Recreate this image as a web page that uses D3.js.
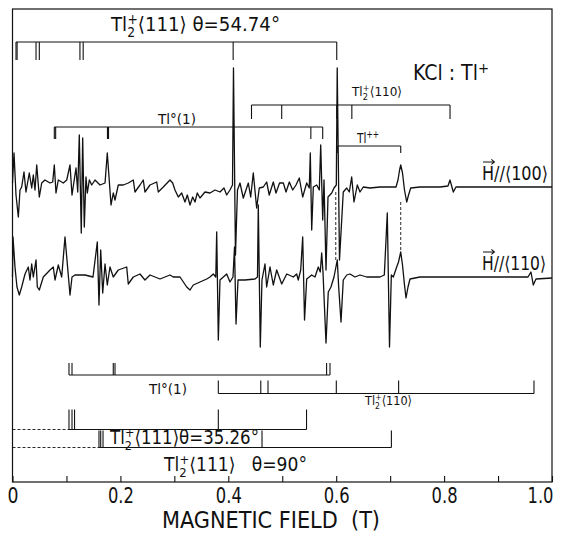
<!DOCTYPE html>
<meta charset="utf-8">
<title>KCl:Tl+ EPR spectra</title>
<style>
  body { margin: 0; background: #fff; }
  text { font-family: "Liberation Sans Narrow", "DejaVu Sans Condensed", "Roboto Condensed", sans-serif; fill: #111; }
</style>
<svg width="563" height="534"></svg>
<script src="https://d3js.org/d3.v7.min.js"></script>
<script>

var svg = d3.select("svg"),
    width = +svg.attr("width"),
    height = +svg.attr("height");

// magnetic field axis (T)
var fieldTicks = [0, 0.1, 0.2, 0.3, 0.4, 0.5, 0.6, 0.7, 0.8, 0.9, 1.0];
var tickLabels = ["0", "", "0.2", "", "0.4", "", "0.6", "", "0.8", "", "1.0"];

// spectrum H // <100> : [field (T), signal (arb.)]
var traceH100 = [
  [0.000, 2], [0.0028, 32], [0.0065, -10], [0.0108, -32], [0.0139, -5], [0.017, -2],
  [0.0213, 13], [0.025, -7], [0.0311, 12], [0.0356, -3], [0.0386, 10], [0.0417, -5],
  [0.0449, 20], [0.0497, -12], [0.0541, 2], [0.0602, 5], [0.0695, 2], [0.0745, 3],
  [0.0775, 20], [0.0806, -8], [0.0849, 5], [0.0942, 2], [0.1005, 5], [0.1066, 20],
  [0.1103, -10], [0.1177, 17], [0.1209, -7], [0.1238, 50], [0.1275, -48], [0.1301, 47],
  [0.1331, -42], [0.1362, 8], [0.1387, -8], [0.1424, 5], [0.1468, 0], [0.1529, 5],
  [0.1622, 0], [0.1715, 2], [0.1757, 32], [0.1826, -20], [0.1868, -8], [0.190, -15],
  [0.1961, 0], [0.2054, 0], [0.2146, 2], [0.2239, 5], [0.227, -7], [0.2363, 0],
  [0.2424, 5], [0.2455, -7], [0.2549, 0], [0.2673, 3], [0.2702, -7], [0.2795, -2],
  [0.2919, 5], [0.2969, 2], [0.3012, -5], [0.3073, -12], [0.3136, -8], [0.3197, -17],
  [0.324, -10], [0.329, -20], [0.334, -12], [0.3383, -17], [0.3425, -8], [0.3475, -13],
  [0.3568, -7], [0.3661, -8], [0.3754, -5], [0.3846, -7], [0.392, -3], [0.397, -10],
  [0.4031, -5], [0.4078, 0], [0.4096, 117], [0.4133, -70], [0.417, -5], [0.4217, 2],
  [0.4278, -13], [0.4371, 2], [0.4415, -12], [0.4463, 12], [0.4526, -23], [0.4574, -3],
  [0.4649, -2], [0.4711, 3], [0.4759, -10], [0.4834, 3], [0.4884, -8], [0.4950, 2],
  [0.502, 2], [0.507, -7], [0.5131, 3], [0.5194, -5], [0.5255, 0], [0.5316, 7],
  [0.5379, -12], [0.5453, 2], [0.5501, -3], [0.552, 32], [0.5546, -45], [0.5576, -2],
  [0.5639, 0], [0.5687, -5], [0.5713, 40], [0.575, -35], [0.5774, 5], [0.5811, -85],
  [0.5848, -12], [0.5917, -8], [0.5959, -3], [0.6002, 0], [0.6019, 117], [0.6061, -75],
  [0.6131, -7], [0.6195, -3], [0.6243, -7], [0.6287, 8], [0.633, -17], [0.6391, 0],
  [0.6441, -7], [0.6502, -2], [0.6626, -3], [0.6812, -2], [0.6997, -2], [0.7109, -2],
  [0.7145, 5], [0.7175, 15], [0.7196, 20], [0.7229, 12], [0.7266, -5], [0.7307, -17],
  [0.7341, -10], [0.7381, -3], [0.7553, -2], [0.7924, -2], [0.8072, -1], [0.8109, 5],
  [0.8171, -7], [0.822, -2], [0.8665, -2], [1.0, -2]
];

// spectrum H // <110>
var traceH110 = [
  [0.000, 0], [0.0009, 40], [0.0046, 10], [0.0083, -10], [0.0126, -18], [0.017, -10],
  [0.0232, 3], [0.0293, 10], [0.0324, -3], [0.0356, 13], [0.0386, 0], [0.0436, 17],
  [0.046, -10], [0.0497, -13], [0.0571, 0], [0.0695, 7], [0.0756, 10], [0.0788, -3],
  [0.0849, 12], [0.0912, 0], [0.0973, 40], [0.1066, -18], [0.1103, 0], [0.1158, 2],
  [0.1344, 2], [0.1492, 0], [0.1572, 35], [0.1603, -28], [0.1635, 27], [0.1672, -16],
  [0.1715, 13], [0.1757, -8], [0.1807, 10], [0.1868, 0], [0.1961, 7], [0.2117, 10],
  [0.2146, -7], [0.2239, 0], [0.2363, 3], [0.2455, -3], [0.2549, 2], [0.2734, -2],
  [0.2919, 2], [0.298, 0], [0.3105, 0], [0.3229, -10], [0.329, -13], [0.3351, -8],
  [0.3475, -5], [0.360, -2], [0.3661, 0], [0.3722, 3], [0.3768, 0], [0.3785, 45],
  [0.3815, -63], [0.3846, -3], [0.397, 3], [0.4031, -5], [0.4087, 0], [0.4115, 30],
  [0.4143, -47], [0.418, -3], [0.4309, -3], [0.4495, -2], [0.4541, 0], [0.4556, 72],
  [0.4593, -70], [0.4624, -3], [0.468, 13], [0.4711, -10], [0.4773, 10], [0.4834, -8],
  [0.4897, 7], [0.499, -7], [0.5083, 3], [0.5205, 0], [0.5267, 3], [0.5297, -3],
  [0.5342, 7], [0.5379, 40], [0.5413, -43], [0.5453, -2], [0.5546, 2], [0.5607, 0],
  [0.5668, 10], [0.5705, 5], [0.5731, 24], [0.5755, 5], [0.5811, -66], [0.5853, -15],
  [0.5903, -10], [0.5959, 0], [0.602, 17], [0.6046, -10], [0.6089, -45], [0.6131, -3],
  [0.6195, 2], [0.6256, 3], [0.6348, 0], [0.6441, 2], [0.6566, 0], [0.6812, 0],
  [0.6892, 2], [0.6947, 64], [0.6988, -70], [0.7022, 2], [0.7059, 0], [0.7121, 10],
  [0.7155, 15], [0.7196, 25], [0.7229, 12], [0.7266, -8], [0.7294, -21], [0.7331, -10],
  [0.7368, -2], [0.7553, 0], [0.8109, 0], [0.9036, 0], [0.9555, 0], [0.961, 5],
  [0.9653, -8], [0.9703, -2], [1.0, -1]
];

// line positions (T) of the stick diagrams
var tl2_111_5474 = [0.0065, 0.0085, 0.0436, 0.0497, 0.125, 0.131, 0.409, 0.601];
var tl2_110_top  = [0.443, 0.499, 0.601, 0.629, 0.811];
var tl0_top      = [0.0775, 0.080, 0.176, 0.178, 0.553, 0.575];
var tlpp         = [0.602, 0.7196];
var tl0_bottom   = [0.1047, 0.1103, 0.1868, 0.190, 0.5822, 0.5885];
var tl2_110_bot  = [0.3815, 0.4602, 0.4736, 0.6002, 0.7157, 0.9666];
var tl2_111_3526 = [0.1047, 0.1103, 0.115, 0.3815, 0.545];
var tl2_111_90   = [0.1603, 0.1635, 0.1678, 0.4625, 0.7023];

var margin = {left: 12.5, right: 11, top: 9, bottom: 52};
var x = d3.scaleLinear().domain([0, 1]).range([margin.left, width - margin.right]);
var amp = d3.scaleLinear().domain([-120, 120]).range([120, -120]);
var ink = "#111";

// frame
svg.append("rect")
    .attr("x", x(0)).attr("y", margin.top)
    .attr("width", x(1) - x(0)).attr("height", height - margin.bottom - margin.top)
    .attr("fill", "none").attr("stroke", ink).attr("stroke-width", 1.2);

// axis
var axis = svg.append("g")
    .attr("transform", "translate(0," + (height - margin.bottom) + ")")
    .call(d3.axisBottom(x).tickValues(fieldTicks).tickSize(-6).tickPadding(6)
      .tickFormat(function(d, i) { return tickLabels[i]; }));
axis.select(".domain").remove();
axis.selectAll("line").attr("stroke", ink).attr("stroke-width", 1.1);
axis.selectAll("text")
    .attr("font-size", 21).attr("fill", ink)
    .attr("textLength", function(d, i) { return tickLabels[i].length > 1 ? 26 : 11; })
    .attr("lengthAdjust", "spacingAndGlyphs")
    .style("font-family", "'Liberation Sans Narrow', 'DejaVu Sans Condensed', sans-serif");
axis.selectAll(".tick").filter(function(d) { return d === 1; }).select("text")
    .attr("text-anchor", "end").attr("dx", 1);

svg.append("text")
    .attr("x", 271).attr("y", 528)
    .attr("text-anchor", "middle").attr("font-size", 23)
    .attr("xml:space", "preserve")
    .attr("textLength", 218).attr("lengthAdjust", "spacingAndGlyphs")
    .text("MAGNETIC FIELD  (T)");

// spectra
var line = d3.line().x(function(d) { return x(d[0]); }).y(function(d) { return amp(d[1]); });
[[traceH100, 185], [traceH110, 277]].forEach(function(t) {
  svg.append("path")
      .datum(t[0])
      .attr("transform", "translate(0," + t[1] + ")")
      .attr("d", line)
      .attr("fill", "none").attr("stroke", ink)
      .attr("stroke-width", 1.3).attr("stroke-linejoin", "round");
});

// stick diagrams: y of the bar, tick direction (+1 down) and length
function bracket(fields, y, dir, len) {
  var g = svg.append("g").attr("stroke", ink).attr("stroke-width", 1.1).attr("fill", "none");
  g.append("line")
      .attr("x1", x(d3.min(fields))).attr("x2", x(d3.max(fields)))
      .attr("y1", y).attr("y2", y);
  g.selectAll("line.tick").data(fields).enter().append("line")
      .attr("class", "tick")
      .attr("x1", function(d) { return x(d); }).attr("x2", function(d) { return x(d); })
      .attr("y1", y).attr("y2", y + dir * len);
  return g;
}
bracket(tl2_111_5474, 42, 1, 18);
bracket(tl2_110_top, 105, 1, 14);
bracket(tl0_top, 127, 1, 12);
bracket(tlpp, 146, 1, 7);
bracket(tl0_bottom, 375, -1, 12);
bracket(tl2_110_bot, 393.5, -1, 13);
bracket(tl2_111_3526, 429.5, -1, 20);
bracket(tl2_111_90, 447.5, -1, 17);

// dashed guides
function dashed(x1, y1, x2, y2) {
  svg.append("line").attr("x1", x1).attr("y1", y1).attr("x2", x2).attr("y2", y2)
      .attr("stroke", ink).attr("stroke-width", 0.9).attr("stroke-dasharray", "3,2");
}
dashed(x(0), 429.5, x(d3.min(tl2_111_3526)), 429.5);
dashed(x(0), 447.5, x(d3.min(tl2_111_90)), 447.5);
dashed(x(tlpp[0]) - 1.5, 192, x(tlpp[0]) - 1.5, 260);
dashed(x(tlpp[1]), 202, x(tlpp[1]), 252);

// labels
function tl2(xp, y, size, rest, len) {
  var t = svg.append("text").attr("x", xp).attr("y", y).attr("font-size", size)
      .attr("xml:space", "preserve");
  if (len) t.attr("textLength", len).attr("lengthAdjust", "spacingAndGlyphs");
  t.append("tspan").text("Tl");
  t.append("tspan").attr("font-size", size * 0.68).attr("dy", size * 0.3).text("2");
  t.append("tspan").attr("font-size", size * 0.68).attr("dx", -size * 0.68 * 0.55)
      .attr("dy", -size * 0.66).text("+");
  t.append("tspan").attr("dy", size * 0.36).text(rest);
}
function plain(xp, y, size, txt, sup, len) {
  var t = svg.append("text").attr("x", xp).attr("y", y).attr("font-size", size);
  if (len) t.attr("textLength", len).attr("lengthAdjust", "spacingAndGlyphs");
  t.append("tspan").text(txt);
  if (sup) t.append("tspan").attr("font-size", size * 0.7).attr("dy", -size * 0.35).text(sup);
}
function hvec(xp, y, size, rest, len) {
  svg.append("text").attr("x", xp).attr("y", y).attr("font-size", size)
      .attr("textLength", len).attr("lengthAdjust", "spacingAndGlyphs")
      .text("H//" + rest);
  var w = size * 0.6;
  svg.append("path")
      .attr("d", "M" + (xp + 1) + "," + (y - size * 0.95) + "h" + w +
                 "M" + (xp + 1 + w - 3) + "," + (y - size * 0.95 - 2.5) + "l3,2.5l-3,2.5")
      .attr("fill", "none").attr("stroke", ink).attr("stroke-width", 1.1);
}

tl2(111, 31, 20, "⟨111⟩ θ=54.74°", 169);
plain(413, 80, 21, "KCl : Tl", "+", 76);
tl2(352, 96, 13, "⟨110⟩", 50);
plain(158, 124, 14, "Tl°(1)", null, 38);
plain(357, 143, 14, "Tl", "++", 22);
hvec(482, 180, 19, "⟨100⟩", 66);
hvec(482, 270, 19, "⟨110⟩", 64);
plain(149, 394, 14, "Tl°(1)", null, 38);
tl2(365, 405, 13, "⟨110⟩", 47);
tl2(110, 444, 19, "⟨111⟩θ=35.26°", 149);
tl2(164, 471, 19, "⟨111⟩   θ=90°", 143);

</script>
